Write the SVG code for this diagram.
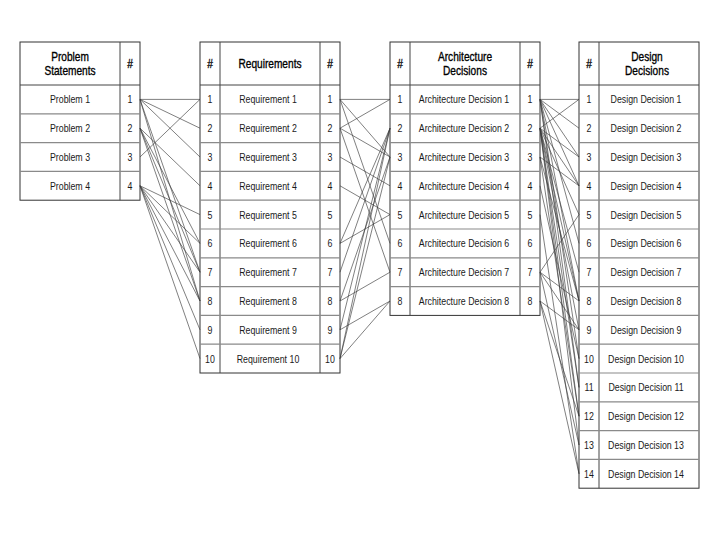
<svg xmlns="http://www.w3.org/2000/svg" width="720" height="540" viewBox="0 0 720 540">
<style>
.bg{fill:#fff}
.box{fill:#fff;stroke:#333;stroke-width:1}
.div{stroke:#444;stroke-width:1}
.sep{stroke:#8a8a8a;stroke-width:1.2}
.hd{font-family:"Liberation Sans",Arial,sans-serif;font-size:13px;fill:#000;stroke:#000;stroke-width:0.35;text-anchor:middle}
.c{font-family:"Liberation Sans",Arial,sans-serif;font-size:11px;fill:#1a1a1a;text-anchor:middle}
.con line{stroke:#3a3a3a;stroke-width:0.65;fill:none}
</style>
<rect class="bg" x="0" y="0" width="720" height="540"/>

<g id="problem-statements">
<rect class="box" x="20" y="42" width="120" height="158.2"/>
<line class="div" x1="120" y1="42" x2="120" y2="200.2"/>
<line class="div" x1="20" y1="85" x2="140" y2="85"/>
<line class="sep" x1="20" y1="113.8" x2="140" y2="113.8"/>
<line class="sep" x1="20" y1="142.6" x2="140" y2="142.6"/>
<line class="sep" x1="20" y1="171.4" x2="140" y2="171.4"/>
<text class="hd" transform="translate(70 60.5) scale(0.78 1)">Problem</text>
<text class="hd" transform="translate(70 75) scale(0.78 1)">Statements</text>
<text class="hd" transform="translate(130 68) scale(0.78 1)">#</text>
<text class="c" transform="translate(70 103.4) scale(0.8 1)">Problem 1</text>
<text class="c" transform="translate(70 132.2) scale(0.8 1)">Problem 2</text>
<text class="c" transform="translate(70 161) scale(0.8 1)">Problem 3</text>
<text class="c" transform="translate(70 189.8) scale(0.8 1)">Problem 4</text>
<text class="c" transform="translate(130 103.4) scale(0.8 1)">1</text>
<text class="c" transform="translate(130 132.2) scale(0.8 1)">2</text>
<text class="c" transform="translate(130 161) scale(0.8 1)">3</text>
<text class="c" transform="translate(130 189.8) scale(0.8 1)">4</text>
</g>

<g id="requirements">
<rect class="box" x="200" y="42" width="140" height="331"/>
<line class="div" x1="220" y1="42" x2="220" y2="373"/>
<line class="div" x1="320" y1="42" x2="320" y2="373"/>
<line class="div" x1="200" y1="85" x2="340" y2="85"/>
<line class="sep" x1="200" y1="113.8" x2="340" y2="113.8"/>
<line class="sep" x1="200" y1="142.6" x2="340" y2="142.6"/>
<line class="sep" x1="200" y1="171.4" x2="340" y2="171.4"/>
<line class="sep" x1="200" y1="200.2" x2="340" y2="200.2"/>
<line class="sep" x1="200" y1="229" x2="340" y2="229"/>
<line class="sep" x1="200" y1="257.8" x2="340" y2="257.8"/>
<line class="sep" x1="200" y1="286.6" x2="340" y2="286.6"/>
<line class="sep" x1="200" y1="315.4" x2="340" y2="315.4"/>
<line class="sep" x1="200" y1="344.2" x2="340" y2="344.2"/>
<text class="hd" transform="translate(210 68) scale(0.78 1)">#</text>
<text class="hd" transform="translate(270 68) scale(0.78 1)">Requirements</text>
<text class="hd" transform="translate(330 68) scale(0.78 1)">#</text>
<text class="c" transform="translate(210 103.4) scale(0.8 1)">1</text>
<text class="c" transform="translate(210 132.2) scale(0.8 1)">2</text>
<text class="c" transform="translate(210 161) scale(0.8 1)">3</text>
<text class="c" transform="translate(210 189.8) scale(0.8 1)">4</text>
<text class="c" transform="translate(210 218.6) scale(0.8 1)">5</text>
<text class="c" transform="translate(210 247.4) scale(0.8 1)">6</text>
<text class="c" transform="translate(210 276.2) scale(0.8 1)">7</text>
<text class="c" transform="translate(210 305) scale(0.8 1)">8</text>
<text class="c" transform="translate(210 333.8) scale(0.8 1)">9</text>
<text class="c" transform="translate(210 362.6) scale(0.8 1)">10</text>
<text class="c" transform="translate(268 103.4) scale(0.8 1)">Requirement 1</text>
<text class="c" transform="translate(268 132.2) scale(0.8 1)">Requirement 2</text>
<text class="c" transform="translate(268 161) scale(0.8 1)">Requirement 3</text>
<text class="c" transform="translate(268 189.8) scale(0.8 1)">Requirement 4</text>
<text class="c" transform="translate(268 218.6) scale(0.8 1)">Requirement 5</text>
<text class="c" transform="translate(268 247.4) scale(0.8 1)">Requirement 6</text>
<text class="c" transform="translate(268 276.2) scale(0.8 1)">Requirement 7</text>
<text class="c" transform="translate(268 305) scale(0.8 1)">Requirement 8</text>
<text class="c" transform="translate(268 333.8) scale(0.8 1)">Requirement 9</text>
<text class="c" transform="translate(268 362.6) scale(0.8 1)">Requirement 10</text>
<text class="c" transform="translate(330 103.4) scale(0.8 1)">1</text>
<text class="c" transform="translate(330 132.2) scale(0.8 1)">2</text>
<text class="c" transform="translate(330 161) scale(0.8 1)">3</text>
<text class="c" transform="translate(330 189.8) scale(0.8 1)">4</text>
<text class="c" transform="translate(330 218.6) scale(0.8 1)">5</text>
<text class="c" transform="translate(330 247.4) scale(0.8 1)">6</text>
<text class="c" transform="translate(330 276.2) scale(0.8 1)">7</text>
<text class="c" transform="translate(330 305) scale(0.8 1)">8</text>
<text class="c" transform="translate(330 333.8) scale(0.8 1)">9</text>
<text class="c" transform="translate(330 362.6) scale(0.8 1)">10</text>
</g>

<g id="architecture-decisions">
<rect class="box" x="390" y="42" width="150" height="273.4"/>
<line class="div" x1="410" y1="42" x2="410" y2="315.4"/>
<line class="div" x1="520" y1="42" x2="520" y2="315.4"/>
<line class="div" x1="390" y1="85" x2="540" y2="85"/>
<line class="sep" x1="390" y1="113.8" x2="540" y2="113.8"/>
<line class="sep" x1="390" y1="142.6" x2="540" y2="142.6"/>
<line class="sep" x1="390" y1="171.4" x2="540" y2="171.4"/>
<line class="sep" x1="390" y1="200.2" x2="540" y2="200.2"/>
<line class="sep" x1="390" y1="229" x2="540" y2="229"/>
<line class="sep" x1="390" y1="257.8" x2="540" y2="257.8"/>
<line class="sep" x1="390" y1="286.6" x2="540" y2="286.6"/>
<text class="hd" transform="translate(400 68) scale(0.78 1)">#</text>
<text class="hd" transform="translate(465 60.5) scale(0.78 1)">Architecture</text>
<text class="hd" transform="translate(465 75) scale(0.78 1)">Decisions</text>
<text class="hd" transform="translate(530 68) scale(0.78 1)">#</text>
<text class="c" transform="translate(400 103.4) scale(0.8 1)">1</text>
<text class="c" transform="translate(400 132.2) scale(0.8 1)">2</text>
<text class="c" transform="translate(400 161) scale(0.8 1)">3</text>
<text class="c" transform="translate(400 189.8) scale(0.8 1)">4</text>
<text class="c" transform="translate(400 218.6) scale(0.8 1)">5</text>
<text class="c" transform="translate(400 247.4) scale(0.8 1)">6</text>
<text class="c" transform="translate(400 276.2) scale(0.8 1)">7</text>
<text class="c" transform="translate(400 305) scale(0.8 1)">8</text>
<text class="c" transform="translate(464 103.4) scale(0.8 1)">Architecture Decision 1</text>
<text class="c" transform="translate(464 132.2) scale(0.8 1)">Architecture Decision 2</text>
<text class="c" transform="translate(464 161) scale(0.8 1)">Architecture Decision 3</text>
<text class="c" transform="translate(464 189.8) scale(0.8 1)">Architecture Decision 4</text>
<text class="c" transform="translate(464 218.6) scale(0.8 1)">Architecture Decision 5</text>
<text class="c" transform="translate(464 247.4) scale(0.8 1)">Architecture Decision 6</text>
<text class="c" transform="translate(464 276.2) scale(0.8 1)">Architecture Decision 7</text>
<text class="c" transform="translate(464 305) scale(0.8 1)">Architecture Decision 8</text>
<text class="c" transform="translate(530 103.4) scale(0.8 1)">1</text>
<text class="c" transform="translate(530 132.2) scale(0.8 1)">2</text>
<text class="c" transform="translate(530 161) scale(0.8 1)">3</text>
<text class="c" transform="translate(530 189.8) scale(0.8 1)">4</text>
<text class="c" transform="translate(530 218.6) scale(0.8 1)">5</text>
<text class="c" transform="translate(530 247.4) scale(0.8 1)">6</text>
<text class="c" transform="translate(530 276.2) scale(0.8 1)">7</text>
<text class="c" transform="translate(530 305) scale(0.8 1)">8</text>
</g>

<g id="design-decisions">
<rect class="box" x="579" y="42" width="120" height="446.2"/>
<line class="div" x1="599" y1="42" x2="599" y2="488.2"/>
<line class="div" x1="579" y1="85" x2="699" y2="85"/>
<line class="sep" x1="579" y1="113.8" x2="699" y2="113.8"/>
<line class="sep" x1="579" y1="142.6" x2="699" y2="142.6"/>
<line class="sep" x1="579" y1="171.4" x2="699" y2="171.4"/>
<line class="sep" x1="579" y1="200.2" x2="699" y2="200.2"/>
<line class="sep" x1="579" y1="229" x2="699" y2="229"/>
<line class="sep" x1="579" y1="257.8" x2="699" y2="257.8"/>
<line class="sep" x1="579" y1="286.6" x2="699" y2="286.6"/>
<line class="sep" x1="579" y1="315.4" x2="699" y2="315.4"/>
<line class="sep" x1="579" y1="344.2" x2="699" y2="344.2"/>
<line class="sep" x1="579" y1="373" x2="699" y2="373"/>
<line class="sep" x1="579" y1="401.8" x2="699" y2="401.8"/>
<line class="sep" x1="579" y1="430.6" x2="699" y2="430.6"/>
<line class="sep" x1="579" y1="459.4" x2="699" y2="459.4"/>
<text class="hd" transform="translate(589 68) scale(0.78 1)">#</text>
<text class="hd" transform="translate(647 60.5) scale(0.78 1)">Design</text>
<text class="hd" transform="translate(647 75) scale(0.78 1)">Decisions</text>
<text class="c" transform="translate(589 103.4) scale(0.8 1)">1</text>
<text class="c" transform="translate(589 132.2) scale(0.8 1)">2</text>
<text class="c" transform="translate(589 161) scale(0.8 1)">3</text>
<text class="c" transform="translate(589 189.8) scale(0.8 1)">4</text>
<text class="c" transform="translate(589 218.6) scale(0.8 1)">5</text>
<text class="c" transform="translate(589 247.4) scale(0.8 1)">6</text>
<text class="c" transform="translate(589 276.2) scale(0.8 1)">7</text>
<text class="c" transform="translate(589 305) scale(0.8 1)">8</text>
<text class="c" transform="translate(589 333.8) scale(0.8 1)">9</text>
<text class="c" transform="translate(589 362.6) scale(0.8 1)">10</text>
<text class="c" transform="translate(589 391.4) scale(0.8 1)">11</text>
<text class="c" transform="translate(589 420.2) scale(0.8 1)">12</text>
<text class="c" transform="translate(589 449) scale(0.8 1)">13</text>
<text class="c" transform="translate(589 477.8) scale(0.8 1)">14</text>
<text class="c" transform="translate(646 103.4) scale(0.8 1)">Design Decision 1</text>
<text class="c" transform="translate(646 132.2) scale(0.8 1)">Design Decision 2</text>
<text class="c" transform="translate(646 161) scale(0.8 1)">Design Decision 3</text>
<text class="c" transform="translate(646 189.8) scale(0.8 1)">Design Decision 4</text>
<text class="c" transform="translate(646 218.6) scale(0.8 1)">Design Decision 5</text>
<text class="c" transform="translate(646 247.4) scale(0.8 1)">Design Decision 6</text>
<text class="c" transform="translate(646 276.2) scale(0.8 1)">Design Decision 7</text>
<text class="c" transform="translate(646 305) scale(0.8 1)">Design Decision 8</text>
<text class="c" transform="translate(646 333.8) scale(0.8 1)">Design Decision 9</text>
<text class="c" transform="translate(646 362.6) scale(0.8 1)">Design Decision 10</text>
<text class="c" transform="translate(646 391.4) scale(0.8 1)">Design Decision 11</text>
<text class="c" transform="translate(646 420.2) scale(0.8 1)">Design Decision 12</text>
<text class="c" transform="translate(646 449) scale(0.8 1)">Design Decision 13</text>
<text class="c" transform="translate(646 477.8) scale(0.8 1)">Design Decision 14</text>
</g>

<g id="connectors" class="con">
<!-- Problems to Requirements -->
<line x1="140" y1="99.4" x2="200" y2="99.4"/>
<line x1="140" y1="99.4" x2="200" y2="128.2"/>
<line x1="140" y1="99.4" x2="200" y2="157"/>
<line x1="140" y1="99.4" x2="200" y2="272.2"/>
<line x1="140" y1="99.4" x2="200" y2="301"/>
<line x1="140" y1="128.2" x2="200" y2="185.8"/>
<line x1="140" y1="128.2" x2="200" y2="243.4"/>
<line x1="140" y1="128.2" x2="200" y2="272.2"/>
<line x1="140" y1="128.2" x2="200" y2="301"/>
<line x1="140" y1="157" x2="200" y2="99.4"/>
<line x1="140" y1="185.8" x2="200" y2="214.6"/>
<line x1="140" y1="185.8" x2="200" y2="243.4"/>
<line x1="140" y1="185.8" x2="200" y2="272.2"/>
<line x1="140" y1="185.8" x2="200" y2="301"/>
<line x1="140" y1="185.8" x2="200" y2="329.8"/>
<line x1="140" y1="185.8" x2="200" y2="358.6"/>
<!-- Requirements to Architecture Decisions -->
<line x1="340" y1="99.4" x2="390" y2="99.4"/>
<line x1="340" y1="99.4" x2="390" y2="157"/>
<line x1="340" y1="99.4" x2="390" y2="243.4"/>
<line x1="340" y1="128.2" x2="390" y2="99.4"/>
<line x1="340" y1="128.2" x2="390" y2="157"/>
<line x1="340" y1="128.2" x2="390" y2="272.2"/>
<line x1="340" y1="157" x2="390" y2="185.8"/>
<line x1="340" y1="185.8" x2="390" y2="214.6"/>
<line x1="340" y1="243.4" x2="390" y2="128.2"/>
<line x1="340" y1="243.4" x2="390" y2="214.6"/>
<line x1="340" y1="272.2" x2="390" y2="128.2"/>
<line x1="340" y1="301" x2="390" y2="157"/>
<line x1="340" y1="301" x2="390" y2="272.2"/>
<line x1="340" y1="329.8" x2="390" y2="128.2"/>
<line x1="340" y1="329.8" x2="390" y2="301"/>
<line x1="340" y1="358.6" x2="390" y2="128.2"/>
<line x1="340" y1="358.6" x2="390" y2="157"/>
<line x1="340" y1="358.6" x2="390" y2="301"/>
<!-- Architecture Decisions to Design Decisions -->
<line x1="540" y1="99.4" x2="579" y2="99.4"/>
<line x1="540" y1="99.4" x2="579" y2="128.2"/>
<line x1="540" y1="99.4" x2="579" y2="157"/>
<line x1="540" y1="99.4" x2="579" y2="185.8"/>
<line x1="540" y1="99.4" x2="579" y2="243.4"/>
<line x1="540" y1="99.4" x2="579" y2="301"/>
<line x1="540" y1="99.4" x2="579" y2="358.6"/>
<line x1="540" y1="99.4" x2="579" y2="387.4"/>
<line x1="540" y1="128.2" x2="579" y2="99.4"/>
<line x1="540" y1="128.2" x2="579" y2="157"/>
<line x1="540" y1="128.2" x2="579" y2="185.8"/>
<line x1="540" y1="128.2" x2="579" y2="214.6"/>
<line x1="540" y1="128.2" x2="579" y2="272.2"/>
<line x1="540" y1="128.2" x2="579" y2="301"/>
<line x1="540" y1="128.2" x2="579" y2="329.8"/>
<line x1="540" y1="128.2" x2="579" y2="387.4"/>
<line x1="540" y1="128.2" x2="579" y2="416.2"/>
<line x1="540" y1="128.2" x2="579" y2="445"/>
<line x1="540" y1="157" x2="579" y2="185.8"/>
<line x1="540" y1="157" x2="579" y2="301"/>
<line x1="540" y1="157" x2="579" y2="416.2"/>
<line x1="540" y1="185.8" x2="579" y2="358.6"/>
<line x1="540" y1="214.6" x2="579" y2="473.8"/>
<line x1="540" y1="272.2" x2="579" y2="214.6"/>
<line x1="540" y1="272.2" x2="579" y2="301"/>
<line x1="540" y1="272.2" x2="579" y2="329.8"/>
<line x1="540" y1="272.2" x2="579" y2="445"/>
<line x1="540" y1="301" x2="579" y2="329.8"/>
<line x1="540" y1="301" x2="579" y2="416.2"/>
<line x1="540" y1="301" x2="579" y2="473.8"/>
</g>
</svg>
